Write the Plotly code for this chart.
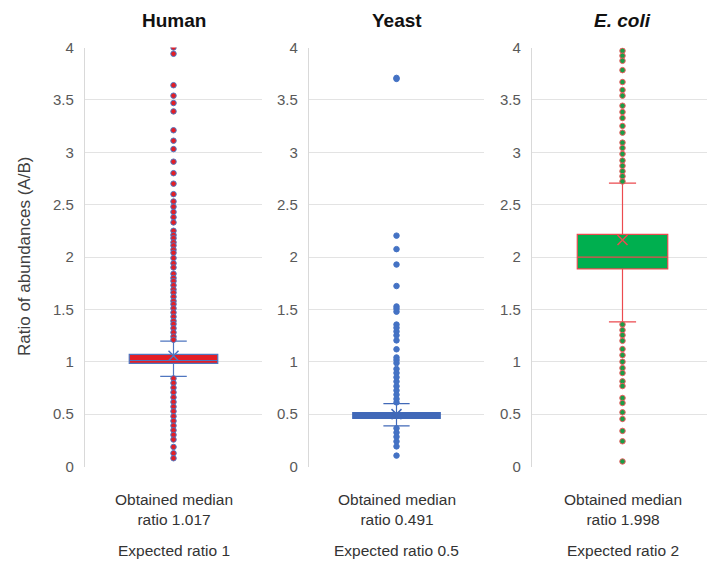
import plotly.graph_objects as go

# ---------------- data ----------------
species = ["Human", "Yeast", "E. coli"]
titles = ["<b>Human</b>", "<b>Yeast</b>", "<b><i>E. coli</i></b>"]
obtained_median = ["1.017", "0.491", "1.998"]
expected_ratio = ["1", "0.5", "2"]

q1 = [0.985, 0.46, 1.886]
median = [1.012, 0.491, 1.998]
q3 = [1.070, 0.515, 2.216]
lowerfence = [0.860, 0.387, 1.381]
upperfence = [1.197, 0.600, 2.705]
means = [1.057, 0.500, 2.162]

human_outliers = [4.0, 3.94, 3.64, 3.54, 3.47, 3.39, 3.21, 3.11, 3.03, 2.91, 2.80, 2.70,
                  2.60, 2.53, 2.48, 2.43, 2.38, 2.33, 2.25, 2.21, 2.18, 2.14, 2.11, 2.07,
                  2.04, 1.99, 1.94, 1.90, 1.84, 1.80, 1.77, 1.73, 1.69, 1.66, 1.62, 1.58,
                  1.55, 1.51, 1.47, 1.43, 1.39, 1.36, 1.32, 1.28, 1.24, 1.21,
                  0.841, 0.797, 0.752, 0.708, 0.660, 0.616, 0.571, 0.527, 0.479, 0.435,
                  0.390, 0.346, 0.302, 0.257, 0.187, 0.127, 0.079]
yeast_outliers = [3.71, 3.70, 2.204, 2.075, 1.928, 1.723, 1.528, 1.506, 1.478, 1.355, 1.324,
                  1.289, 1.252, 1.204, 1.119, 1.041, 1.016, 0.987, 0.931, 0.893,
                  0.852, 0.811, 0.767, 0.726, 0.686, 0.645, 0.612,
                  0.365, 0.324, 0.283, 0.239, 0.192, 0.104]
ecoli_outliers = [3.968, 3.921, 3.873, 3.784, 3.670, 3.594, 3.540, 3.444, 3.384, 3.327,
                  3.251, 3.187, 3.092, 3.041, 2.984, 2.921, 2.870, 2.819, 2.771, 2.721,
                  1.356, 1.302, 1.254, 1.200, 1.121, 1.063, 1.000, 0.940, 0.892, 0.813,
                  0.768, 0.654, 0.606, 0.517, 0.454, 0.340, 0.241, 0.048]
outliers = [human_outliers, yeast_outliers, ecoli_outliers]

y_ticks = [0, 0.5, 1, 1.5, 2, 2.5, 3, 3.5, 4]

# ---------------- styles ----------------
box_fill = ["#E31E26", "#4169B8", "#00AF4F"]
box_line = ["#4F76C0", "#4169B8", "#EC4A4F"]
dot_fill = ["#E31E26", "#4472C4", "#1A9E47"]
dot_line = ["#4F76C0", "#4472C4", "#EE5A5E"]

W, H = 715, 562
OFF = 8  # page body margin offsets the figure in the window
panels_px = [(85 - OFF, 262 - OFF), (309 - OFF, 484 - OFF), (532 - OFF, 713 - OFF)]
y_top_px, y_bot_px = 47.5 - OFF, 466.5 - OFF
ydom = [1 - y_bot_px / H, 1 - y_top_px / H]


def py(px):
    return 1 - (px - OFF) / H


fig = go.Figure()
annotations = []
for i, sp in enumerate(species):
    xa = "x" if i == 0 else f"x{i+1}"
    ya = "y" if i == 0 else f"y{i+1}"
    fig.add_trace(go.Box(
        x=[sp], q1=[q1[i]], median=[median[i]], q3=[q3[i]],
        lowerfence=[lowerfence[i]], upperfence=[upperfence[i]],
        boxpoints=False, width=1.0, whiskerwidth=0.3,
        fillcolor=box_fill[i], line=dict(color=box_line[i], width=1.2),
        xaxis=xa, yaxis=ya, hoverinfo="skip"))
    fig.add_trace(go.Scatter(
        x=[sp] * len(outliers[i]), y=outliers[i], mode="markers",
        marker=dict(size=5.5, color=dot_fill[i], line=dict(color=dot_line[i], width=1)),
        xaxis=xa, yaxis=ya, hoverinfo="skip"))
    fig.add_trace(go.Scatter(
        x=[sp], y=[means[i]], mode="markers",
        marker=dict(symbol="x-thin", size=10, line=dict(color=box_line[i], width=1.5)),
        xaxis=xa, yaxis=ya, hoverinfo="skip"))

    x0, x1 = panels_px[i]
    fig.update_layout(**{
        ("xaxis" if i == 0 else f"xaxis{i+1}"): dict(
            type="category", range=[-1, 1], showticklabels=False, showgrid=False,
            zeroline=False, showline=False, fixedrange=True, automargin=False,
            domain=[x0 / W, x1 / W]),
        ("yaxis" if i == 0 else f"yaxis{i+1}"): dict(
            domain=ydom, range=[0, 4], tickvals=y_ticks, showgrid=True,
            gridcolor="#E3E3E3", gridwidth=1.3, zeroline=False, showline=True,
            linecolor="#D9D9D9", linewidth=1.3, ticks="", ticklabelstandoff=7,
            tickfont=dict(size=15, color="#595959", family="Liberation Sans"),
            anchor=xa, fixedrange=True, automargin=False),
    })
    cx = (x0 + x1) / 2 / W
    annotations.append(dict(text=titles[i], x=cx, y=py(20), xref="paper", yref="paper",
                            xanchor="center", yanchor="middle",
                            showarrow=False, font=dict(size=19, color="#111111",
                                                       family="Liberation Sans")))
    annotations.append(dict(text=f"Obtained median<br>ratio {obtained_median[i]}",
                            x=cx, y=py(509), xref="paper", yref="paper",
                            xanchor="center", yanchor="middle",
                            showarrow=False, align="center",
                            font=dict(size=15.5, color="#333333", family="Liberation Sans")))
    annotations.append(dict(text=f"Expected ratio {expected_ratio[i]}",
                            x=cx, y=py(550), xref="paper", yref="paper",
                            xanchor="center", yanchor="middle",
                            showarrow=False,
                            font=dict(size=15.5, color="#333333", family="Liberation Sans")))

annotations.append(dict(text="Ratio of abundances (A/B)", x=(25 - OFF) / W, y=py(257),
                        xref="paper", yref="paper", showarrow=False, textangle=-90,
                        xanchor="center", yanchor="middle",
                        font=dict(size=17, color="#404040", family="Liberation Sans")))

fig.update_layout(width=W, height=H, margin=dict(l=0, r=0, t=0, b=0, pad=0),
                  paper_bgcolor="white", plot_bgcolor="white", showlegend=False,
                  annotations=annotations)

fig.write_html("out.html")
